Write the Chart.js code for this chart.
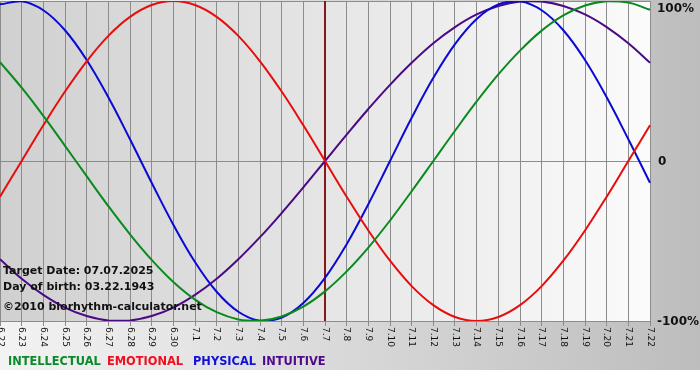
<!DOCTYPE html>
<html>
<head>
<meta charset="utf-8">
<script src="https://cdn.jsdelivr.net/npm/chart.js@4.4.1/dist/chart.umd.min.js"></script>
<style>
  html, body { margin: 0; padding: 0; background: #fff; }
  canvas { display: block; }
</style>
</head>
<body>
<canvas id="bioChart" width="700" height="380"></canvas>
<script>
// days shown on the x axis
const days = ['6.22', '6.23', '6.24', '6.25', '6.26', '6.27', '6.28', '6.29', '6.30',
    '7.1', '7.2', '7.3', '7.4', '7.5', '7.6', '7.7', '7.8', '7.9', '7.10', '7.11',
    '7.12', '7.13', '7.14', '7.15', '7.16', '7.17', '7.18', '7.19', '7.20', '7.21', '7.22'];

// values in %, one per day
const intellectual = [61.8, 45.8, 28.2, 9.5, -9.5, -28.2, -45.8, -61.8, -75.6, -86.6, -94.5,
    -99.0, -99.9, -97.2, -91.0, -81.5, -69.0, -54.1, -37.2, -18.9, 0, 18.9, 37.2, 54.1, 69.0,
    81.5, 91.0, 97.2, 99.9, 99.0, 94.5];
const emotional = [-22.3, 0, 22.3, 43.4, 62.3, 78.2, 90.1, 97.5, 100, 97.5, 90.1, 78.2, 62.3,
    43.4, 22.3, 0, -22.3, -43.4, -62.3, -78.2, -90.1, -97.5, -100, -97.5, -90.1, -78.2, -62.3,
    -43.4, -22.3, 0, 22.3];
const physical = [97.9, 99.8, 94.2, 81.7, 63.1, 39.8, 13.6, -13.6, -39.8, -63.1, -81.7, -94.2,
    -99.8, -97.9, -88.8, -73.1, -52.0, -27.0, 0, 27.0, 52.0, 73.1, 88.8, 97.9, 99.8, 94.2, 81.7,
    63.1, 39.8, 13.6, -13.6];
const intuitive = [-61.4, -73.6, -83.7, -91.6, -96.9, -99.7, -99.7, -96.9, -91.6, -83.7, -73.6,
    -61.4, -47.6, -32.5, -16.5, 0, 16.5, 32.5, 47.6, 61.4, 73.6, 83.7, 91.6, 96.9, 99.7, 99.7,
    96.9, 91.6, 83.7, 73.6, 61.4];

const yTicks = [100, 0, -100];
const yTickLabels = ['100%', '0', '-100%'];
const targetDay = '7.7';
const infoLines = ['Target Date: 07.07.2025', 'Day of birth: 03.22.1943', '\u00a92010 biorhythm-calculator.net'];
const legendItems = [
    { text: 'INTELLECTUAL', color: '#0a8a2a' },
    { text: 'EMOTIONAL', color: '#ee0f1f' },
    { text: 'PHYSICAL', color: '#1010d8' },
    { text: 'INTUITIVE', color: '#4e0a8a' }
];

const FONT = '"DejaVu Sans", Verdana, sans-serif';

// backgrounds, target line and all the texts
const bioDecor = {
    id: 'bioDecor',
    beforeDraw(chart) {
        const c = chart.ctx;
        const a = chart.chartArea;
        c.save();
        c.fillStyle = '#fff';
        c.fillRect(0, 0, chart.width, chart.height);
        let g = c.createLinearGradient(0, 0, chart.width, 0);
        g.addColorStop(0, '#f3f3f3');
        g.addColorStop(1, '#bdbdbd');
        c.fillStyle = g;
        c.fillRect(0, 0, chart.width, 370);
        g = c.createLinearGradient(a.left, 0, a.right, 0);
        g.addColorStop(0, '#d0d0d0');
        g.addColorStop(1, '#fbfbfb');
        c.fillStyle = g;
        c.fillRect(a.left, a.top, a.right - a.left, a.bottom - a.top);
        c.restore();
    },
    beforeDatasetsDraw(chart) {
        const c = chart.ctx;
        const a = chart.chartArea;
        const x = chart.scales.x.getPixelForValue(days.indexOf(targetDay));
        c.save();
        c.strokeStyle = '#861818';
        c.lineWidth = 2;
        c.beginPath();
        c.moveTo(x, a.top);
        c.lineTo(x, a.bottom);
        c.stroke();
        c.restore();
    },
    afterDraw(chart) {
        const c = chart.ctx;
        const a = chart.chartArea;
        const xs = chart.scales.x;
        const ys = chart.scales.y;
        c.save();

        // rotated day labels
        c.fillStyle = '#111';
        c.font = '9px ' + FONT;
        c.textAlign = 'left';
        c.textBaseline = 'middle';
        days.forEach((d, i) => {
            const x = xs.getPixelForTick(i);
            c.save();
            c.translate(x, a.bottom + 6);
            c.rotate(Math.PI / 2);
            c.fillText(d, 0, 0);
            c.restore();
        });

        // percent labels on the right
        c.font = 'bold 12px ' + FONT;
        c.fillStyle = '#111';
        c.textAlign = 'left';
        const offs = [8, 1, 1];
        yTicks.forEach((v, i) => {
            const label = yTickLabels[i];
            const x = label === '0' ? a.right + 8 : a.right + 7;
            c.fillText(label, x, ys.getPixelForValue(v) + offs[i]);
        });

        // info texts
        c.font = 'bold 11px ' + FONT;
        c.fillStyle = '#111';
        c.fillText(infoLines[0], 3, 271);
        c.fillText(infoLines[1], 3, 287);
        c.fillText(infoLines[2], 3, 307);

        // legend
        c.font = 'bold 11.4px ' + FONT;
        const legendX = [8, 107, 193, 262];
        legendItems.forEach((item, i) => {
            c.fillStyle = item.color;
            c.fillText(item.text, legendX[i], 362);
        });
        c.restore();
    }
};

function serie(label, values, color) {
    return {
        label: label,
        data: values,
        borderColor: color,
        borderWidth: 2,
        pointRadius: 0,
        fill: false,
        tension: 0.4
    };
}

const ctx = document.getElementById('bioChart').getContext('2d');
new Chart(ctx, {
    type: 'line',
    data: {
        labels: days,
        datasets: [
            serie('INTELLECTUAL', intellectual, '#0a8a1e'),
            serie('EMOTIONAL', emotional, '#e80d0d'),
            serie('PHYSICAL', physical, '#0a0ad2'),
            serie('INTUITIVE', intuitive, '#4a0a84')
        ]
    },
    options: {
        responsive: false,
        animation: false,
        layout: { padding: { top: 1, right: 50, bottom: 54, left: 0 } },
        plugins: {
            legend: { display: false },
            tooltip: { enabled: false }
        },
        scales: {
            x: {
                type: 'category',
                offset: false,
                grid: { color: '#8c8c8c', lineWidth: 1, drawTicks: true, tickLength: 5 },
                border: { display: true, color: '#8c8c8c' },
                ticks: { display: false, autoSkip: false }
            },
            y: {
                position: 'right',
                min: -100,
                max: 100,
                grid: { color: '#8c8c8c', lineWidth: 1, drawTicks: false },
                border: { display: false },
                ticks: { display: false, stepSize: 100 }
            }
        }
    },
    plugins: [bioDecor]
});
</script>
</body>
</html>
